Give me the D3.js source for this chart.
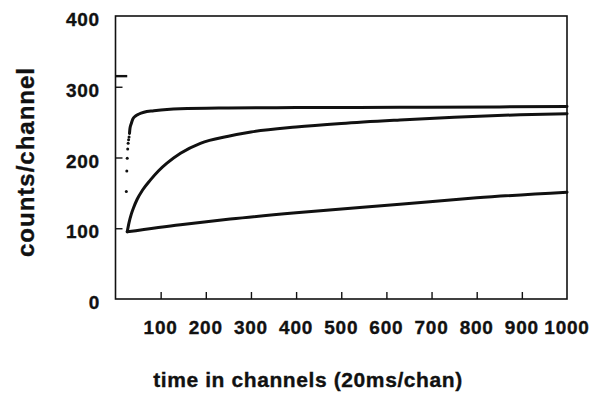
<!DOCTYPE html>
<html>
<head>
<meta charset="utf-8">
<script src="https://cdn.jsdelivr.net/npm/d3@7"></script>
<style>
  body { margin: 0; background: #fff; }
  svg text { font-family: "Liberation Sans", Arial, Helvetica, sans-serif; font-weight: bold; fill: #111; stroke: #111; stroke-width: 0.35px; }
</style>
</head>
<body>
<svg id="chart" width="603" height="393"></svg>
<script>
// values (channel, counts)
const xTicks = [100, 200, 300, 400, 500, 600, 700, 800, 900];
const xTickLabels = [100, 200, 300, 400, 500, 600, 700, 800, 900, 1000];
const yTicks = [0, 100, 200, 300, 400];

const dashSeries = [[0, 315], [26, 315]];
const topDots = [[24, 152], [25, 181], [26, 199], [27, 212], [28, 220], [29, 225], [30, 229]];
const topSeries = [[31, 234], [32, 241], [35, 248], [38, 254], [44, 258.5], [52, 261.5], [63, 264],
  [85, 266], [114, 268], [143, 269], [250, 270], [400, 270.5], [630, 271], [850, 271.5], [1000, 272]];
const midSeries = [[26, 95], [30, 108], [35, 120], [40, 129], [48, 141], [60, 154], [77, 168],
  [95, 181], [114, 192], [144, 206], [188, 220], [250, 230], [300, 236], [400, 243], [500, 248],
  [630, 253], [750, 257], [896, 260.5], [1000, 262]];
const lowSeries = [[26, 95], [144, 105], [254, 113], [400, 122], [630, 134], [800, 143], [1000, 151]];

const svg = d3.select('#chart');
const x = d3.scaleLinear().domain([0, 1000]).range([115.5, 567]);
const y = d3.scaleLinear().domain([0, 400]).range([299, 16]);

// frame
svg.append('rect')
  .attr('x', x(0)).attr('y', y(400))
  .attr('width', x(1000) - x(0)).attr('height', y(0) - y(400))
  .attr('fill', 'none').attr('stroke', '#111').attr('stroke-width', 1.6);

// inward ticks
const xAxis = d3.axisTop(x).tickValues(xTicks).tickSize(7).tickFormat('');
svg.append('g').attr('transform', `translate(0,${y(0)})`).call(xAxis)
  .call(g => g.select('.domain').remove())
  .call(g => g.selectAll('line').attr('stroke', '#111').attr('stroke-width', 1.4));

const yAxis = d3.axisRight(y).tickValues([100, 200, 300]).tickSize(7).tickFormat('');
svg.append('g').attr('transform', `translate(${x(0)},0)`).call(yAxis)
  .call(g => g.select('.domain').remove())
  .call(g => g.selectAll('line').attr('stroke', '#111').attr('stroke-width', 1.4));

// tick labels
svg.append('g').selectAll('text').data(xTickLabels).join('text')
  .attr('x', d => x(d)).attr('y', 334)
  .attr('text-anchor', 'middle')
  .style('font-size', '19px').style('letter-spacing', '0.8px')
  .text(d => d);

svg.append('g').selectAll('text').data(yTicks).join('text')
  .attr('x', 100).attr('y', d => y(d) + 10)
  .attr('text-anchor', 'end')
  .style('font-size', '19px').style('letter-spacing', '0.8px')
  .text(d => d);

// axis titles
svg.append('text')
  .attr('transform', 'translate(33.5,162) rotate(-90)')
  .attr('text-anchor', 'middle')
  .style('font-size', '24px').style('letter-spacing', '1px')
  .text('counts/channel');

svg.append('text')
  .attr('x', 308).attr('y', 387)
  .attr('text-anchor', 'middle')
  .style('font-size', '21px').style('letter-spacing', '0.6px')
  .text('time in channels (20ms/chan)');

// curves
const line = d3.line().x(d => x(d[0])).y(d => y(d[1])).curve(d3.curveMonotoneX);
const straight = d3.line().x(d => x(d[0])).y(d => y(d[1]));

svg.append('path').datum(dashSeries).attr('d', straight)
  .attr('fill', 'none').attr('stroke', '#111').attr('stroke-width', 2.4);

[topSeries, midSeries, lowSeries].forEach(s => {
  svg.append('path').datum(s).attr('d', line)
    .attr('fill', 'none').attr('stroke', '#111').attr('stroke-width', 3)
    .attr('stroke-linejoin', 'round').attr('stroke-linecap', 'round');
});

svg.append('g').selectAll('circle').data(topDots).join('circle')
  .attr('cx', d => x(d[0])).attr('cy', d => y(d[1])).attr('r', 1.5)
  .attr('fill', '#111');
</script>
</body>
</html>
